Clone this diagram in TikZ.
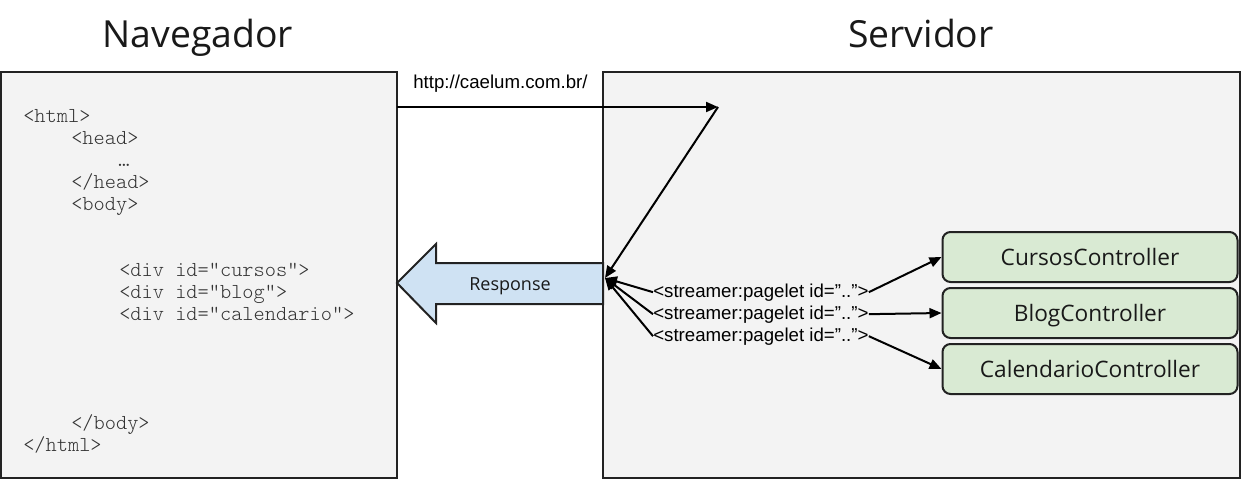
\documentclass[tikz,border=0pt]{standalone}
\usepackage{fontspec}
\setmainfont{Open Sans}
\newfontfamily\arialfont{Liberation Sans}
\newfontfamily\codefont{lmmonolt10-regular.otf}
\usetikzlibrary{arrows.meta}
\definecolor{panelfill}{HTML}{F3F3F3}
\definecolor{respfill}{HTML}{CFE2F3}
\definecolor{ctrlfill}{HTML}{D9EAD3}
\definecolor{edge}{HTML}{222222}
\tikzset{
  panel/.style={draw=edge, line width=1.5pt, fill=panelfill},
  title/.style={anchor=base, inner sep=0pt, font=\fontsize{28}{32}\selectfont, text=black!90},
  code/.style={anchor=base west, inner sep=0pt, font=\codefont\fontsize{16}{18}\selectfont, text=black!80},
  lbl/.style={anchor=base west, inner sep=0pt, font=\arialfont\fontsize{14}{16}\selectfont},
  ctrl/.style={draw=edge, line width=1.5pt, fill=ctrlfill, rounded corners=6pt, minimum width=221.25pt, minimum height=37.5pt, inner sep=0pt, text height=12.1pt, text depth=0pt, font=\fontsize{17}{20}\selectfont, text=black!90},
  conn/.style={line width=1.5pt, draw=black, -{Triangle[length=9pt,width=7.5pt]}},
}
\begin{document}
\begin{tikzpicture}[x=0.75pt,y=-0.75pt]
\path[use as bounding box, fill=white] (0,0) rectangle (1242,482);
% titles
\node[title] (tnav) at (198,47) {Navegador};
\node[title] (tserv) at (921,47) {Servidor};
% panels
\draw[panel] (1,72) rectangle (397,478);
\draw[panel] (603,72) rectangle (1240,478);
% code
\node[code] (c1) at (23,122) {<html>};
\node[code] (c2) at (71,144) {<head>};
\node[code] (c3) at (118,166) {…};
\node[code] (c4) at (71,188) {</head>};
\node[code] (c5) at (71,210) {<body>};
\node[code] (c6) at (119,276) {<div id=”cursos”>};
\node[code] (c7) at (119,298) {<div id=”blog”>};
\node[code] (c8) at (119,320) {<div id=”calendario”>};
\node[code] (c9) at (71,429) {</body>};
\node[code] (c10) at (23,451) {</html>};
% response arrow
\draw[draw=edge, line width=1.5pt, fill=respfill, line join=miter]
  (603,263) -- (436,263) -- (436,244) -- (397,283) -- (436,323) -- (436,304) -- (603,304) -- cycle;
\node[inner sep=0pt, text height=9.6pt, text depth=0pt, font=\fontsize{13.5}{15}\selectfont, text=black!90] (resp) at (510,284) {Response};
% request
\coordinate (start) at (397,107);
\coordinate (req) at (718,107);
\coordinate (junc) at (605,278);
\node[lbl] (url) at (413,88) {http://caelum.com.br/};
\draw[conn] (start) -- (req);
\draw[conn] (req) -- (junc);
% controllers
\node[ctrl] (cur) at (1090,257) {CursosController};
\node[ctrl] (blog) at (1090,313) {BlogController};
\node[ctrl] (cal) at (1090,369) {CalendarioController};
% streamer labels
\node[lbl] (s1) at (653,297) {<streamer:pagelet id=”..”>};
\node[lbl] (s2) at (653,319) {<streamer:pagelet id=”..”>};
\node[lbl] (s3) at (653,341) {<streamer:pagelet id=”..”>};
\draw[conn] (s1.west) -- (junc);
\draw[conn] (s2.west) -- (junc);
\draw[conn] (s3.west) -- (junc);
\draw[conn] (s1.east) -- (cur.west);
\draw[conn] (s2.east) -- (blog.west);
\draw[conn] (s3.east) -- (cal.west);
\end{tikzpicture}
\end{document}
